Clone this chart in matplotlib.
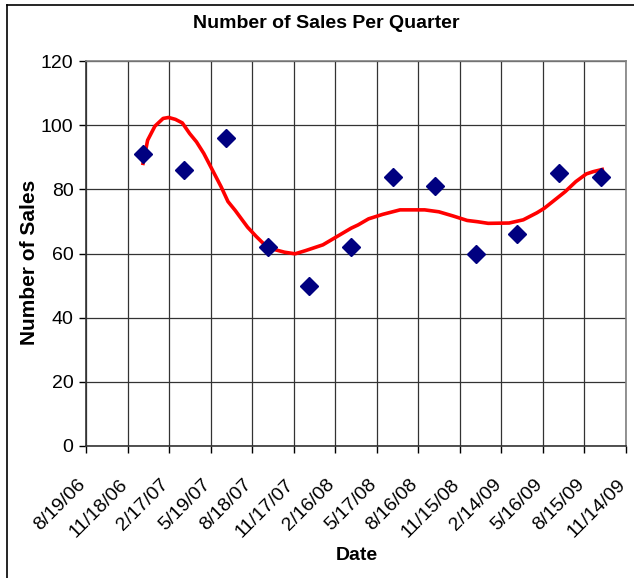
import pandas as pd
import matplotlib.pyplot as plt
import matplotlib.transforms as mtransforms
from matplotlib.lines import Line2D

plt.rcParams['font.family'] = ['Liberation Sans', 'DejaVu Sans']

# quarterly sales points
sale_dates = ['2006-12-21', '2007-03-21', '2007-06-21', '2007-09-21',
              '2007-12-21', '2008-03-21', '2008-06-21', '2008-09-21',
              '2008-12-21', '2009-03-21', '2009-06-21', '2009-09-21']
sales = [91, 86, 96, 62, 50, 62, 84, 81, 60, 66, 85, 84]

# red trend curve (days after 8/19/06, value)
trend_days = [125, 135, 151, 169, 181, 196, 211, 227, 242, 258, 277, 296,
              311, 327, 342, 354, 373, 388, 411, 435, 458, 481, 519, 550,
              581, 596, 619, 650, 688, 742, 773, 804, 835, 858, 881, 927,
              958, 988, 1004, 1027, 1050, 1073, 1096, 1111, 1131]
trend_vals = [88.1, 95.3, 99.7, 102.1, 102.4, 101.8, 100.7, 97.4, 94.8, 91.2,
              86.0, 80.8, 76.2, 73.4, 70.5, 68.2, 65.3, 63.2, 61.3, 60.4,
              59.9, 60.9, 62.7, 65.3, 67.9, 68.9, 70.8, 72.2, 73.6, 73.6,
              73.0, 71.7, 70.3, 69.9, 69.4, 69.5, 70.5, 72.7, 74.1, 76.7,
              79.3, 82.4, 84.8, 85.5, 86.2]

tick_labels = ['8/19/06', '11/18/06', '2/17/07', '5/19/07', '8/18/07',
               '11/17/07', '2/16/08', '5/17/08', '8/16/08', '11/15/08',
               '2/14/09', '5/16/09', '8/15/09', '11/14/09']

start = pd.Timestamp('2006-08-19')
tick_dates = pd.to_datetime(tick_labels, format='%m/%d/%y')
x_sales = pd.to_datetime(sale_dates)
x_trend = start + pd.to_timedelta(trend_days, unit='D')

fig = plt.figure(figsize=(6.34, 5.78), dpi=100)
ax = fig.add_axes([86/634, 1-446/578, (626-86)/634, (446-61)/578])

ax.plot(x_trend, trend_vals, color='#ff0000', lw=2.6, zorder=3)
ax.plot(x_sales, sales, 'D', color='#000080', ms=9.5, mec='#000080', zorder=4)

ax.set_xlim(tick_dates[0], tick_dates[-1])
ax.set_ylim(0, 120)
ax.set_xticks(tick_dates)
ax.set_xticklabels(tick_labels, rotation=45, ha='right', va='center',
                   rotation_mode='anchor', fontsize=14)
ax.set_yticks(range(0, 121, 20))
ax.tick_params(axis='y', labelsize=14, length=5, direction='out', width=1, pad=4)
ax.tick_params(axis='x', length=5, direction='out', width=1, pad=21)
shift = mtransforms.ScaledTranslation(-3/100, 0, fig.dpi_scale_trans)
for lbl in ax.get_xticklabels():
    lbl.set_transform(lbl.get_transform() + shift)

ax.grid(True, color='#333333', lw=0.9)
ax.set_axisbelow(True)
for s in ['top', 'right']:
    ax.spines[s].set_color('#808080')
    ax.spines[s].set_linewidth(1.2)
for s in ['left', 'bottom']:
    ax.spines[s].set_color('#333333')
    ax.spines[s].set_linewidth(1.2)

fig.text(326/634, 1-24/578, 'Number of Sales Per Quarter', ha='center',
         va='center', fontsize=14, fontweight='bold')
fig.text(30/634, 1-262/578, 'Number of Sales', rotation=90, ha='center',
         va='center', fontsize=15, fontweight='bold')
fig.text(357/634, 1-556/578, 'Date', ha='center', va='center',
         fontsize=14, fontweight='bold')

# chart area border (top and left edges visible)
fig.add_artist(Line2D([7/634, 1], [1-5/578, 1-5/578], color='black', lw=1.2,
                      transform=fig.transFigure))
fig.add_artist(Line2D([7/634, 7/634], [0, 1-5/578], color='black', lw=1.2,
                      transform=fig.transFigure))

fig.savefig('out.png', dpi=100)
